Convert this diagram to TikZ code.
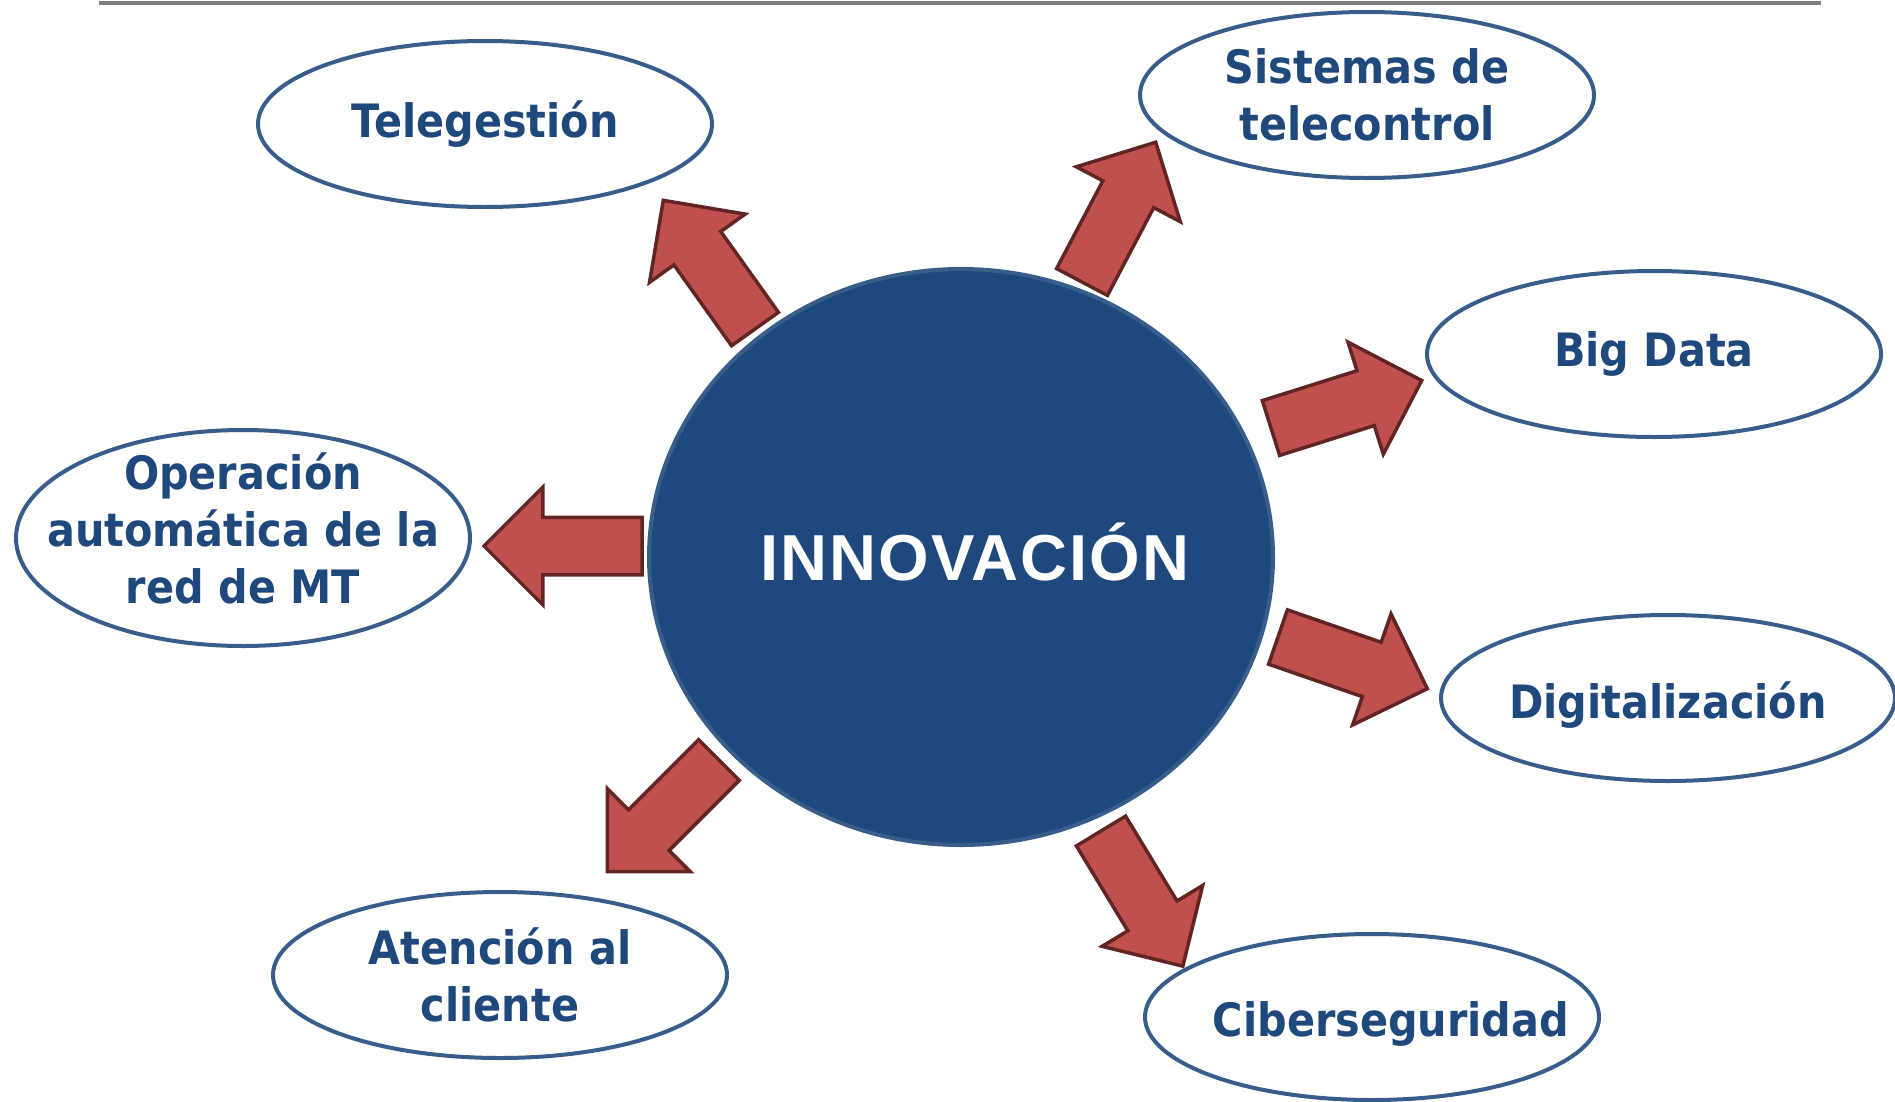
\documentclass[tikz,border=0pt]{standalone}
\usepackage{fontspec}
\setmainfont{DejaVu Sans}[FakeStretch=0.9]
\newfontfamily\titlefont{Liberation Sans}[LetterSpace=3]
\usetikzlibrary{shapes.geometric,shapes.arrows}
\definecolor{darkblue}{HTML}{1F497D}
\definecolor{rimblue}{HTML}{385D8A}
\definecolor{arrowred}{HTML}{C0504D}
\definecolor{arrowrim}{HTML}{632523}

\begin{document}
\begin{tikzpicture}[x=1pt,y=-1pt,
  bubble/.style={ellipse, draw=rimblue, line width=4pt, fill=white,
    minimum width=454pt, minimum height=166pt, inner sep=0pt},
  bubbletext/.style={text=darkblue, font=\fontsize{46}{57}\selectfont\bfseries, align=center},
  outarrow/.style={single arrow, draw=arrowrim, fill=arrowred, line width=3.5pt,
    minimum height=158pt, inner xsep=0pt, inner ysep=27pt,
    single arrow head extend=30pt, outer sep=0pt, anchor=tail}]
\useasboundingbox (0,0) rectangle (1895,1101);
\draw[black!50, line width=4pt] (99,3) -- (1821,3);

% centre
\node[ellipse, fill=darkblue, draw=rimblue, line width=4pt,
  minimum width=624pt, minimum height=576pt] (innov) at (961,557) {};
\node[anchor=base, text=white, font=\titlefont\fontsize{65}{70}\selectfont\bfseries]
  (innovtext) at (975,580) {INNOVACIÓN};

% ideas
\node[bubble, label={[bubbletext]center:Telegestión}] (tele) at (485,124) {};
\node[bubble, label={[bubbletext]center:{Sistemas de\\telecontrol}}] (sistemas) at (1367,95) {};
\node[bubble, label={[bubbletext]center:Big Data}] (bigdata) at (1654,354) {};
\node[bubble, label={[bubbletext,yshift=-7pt]center:Digitalización}] (digital) at (1668,698) {};
\node[bubble, label={[bubbletext,xshift=19pt,yshift=-7pt]center:Ciberseguridad}] (ciber) at (1372,1017) {};
\node[bubble, label={[bubbletext]center:{Atención al\\cliente}}] (atencion) at (500,975) {};
\node[bubble, minimum height=216pt,
  label={[bubbletext,yshift=10pt]center:{Operación\\automática de la\\red de MT}}] (operacion) at (243,538) {};

% arrows
\node[outarrow, rotate=125.5] (totele) at (755,329) {};
\node[outarrow, rotate=62.2] (tosistemas) at (1082,282) {};
\node[outarrow, rotate=17.5] (tobigdata) at (1271,428) {};
\node[outarrow, rotate=-19.1] (todigital) at (1278,637) {};
\node[outarrow, rotate=-58.8] (tociber) at (1101,831) {};
\node[outarrow, rotate=225] (toatencion) at (719,760) {};
\node[outarrow, rotate=180] (tooperacion) at (642,546) {};
\end{tikzpicture}
\end{document}
